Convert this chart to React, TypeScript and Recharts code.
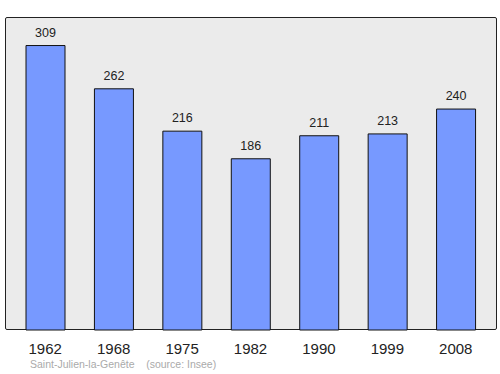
import { BarChart, Bar, XAxis, YAxis, LabelList } from "recharts";

const years = ["1962", "1968", "1975", "1982", "1990", "1999", "2008"];
const population = [309, 262, 216, 186, 211, 213, 240];
const commune = "Saint-Julien-la-Genête";
const sourceNote = "(source: Insee)";

const data = years.map((year, i) => ({ year, value: population[i] }));

const font = "'Liberation Sans', Arial, sans-serif";

export default function App() {
  return (
    <div style={{ position: "fixed", left: 0, top: 0, width: 500, height: 374, background: "#fff", fontFamily: font }}>
      {/* plot frame behind the chart */}
      <div
        style={{
          position: "absolute",
          left: 5,
          top: 17,
          width: 490,
          height: 311,
          background: "#ebebeb",
          border: "1px solid #222",
          borderRadius: 2,
        }}
      />
      <div style={{ position: "absolute", left: 0, top: 0 }}>
        <BarChart width={500} height={374} data={data} margin={{ top: 17, right: 3, bottom: 14, left: 5 }}>
          <XAxis
            dataKey="year"
            axisLine={false}
            tickLine={false}
            tickSize={0}
            tickMargin={13}
            height={30}
            padding={{ left: 6, right: 7 }}
            tick={{ fontSize: 15, fill: "#222", fontFamily: font }}
          />
          <YAxis hide domain={[0, 340]} />
          <Bar dataKey="value" fill="#7799ff" stroke="#111" strokeWidth={1} barSize={39} isAnimationActive={false}>
            <LabelList dataKey="value" position="top" offset={9} style={{ fontSize: 12.5, fill: "#222", fontFamily: font }} />
          </Bar>
        </BarChart>
      </div>
      <div style={{ position: "absolute", left: 30, top: 358, fontSize: 10.5, color: "#aaa", whiteSpace: "pre" }}>
        {commune + "    " + sourceNote}
      </div>
    </div>
  );
}
